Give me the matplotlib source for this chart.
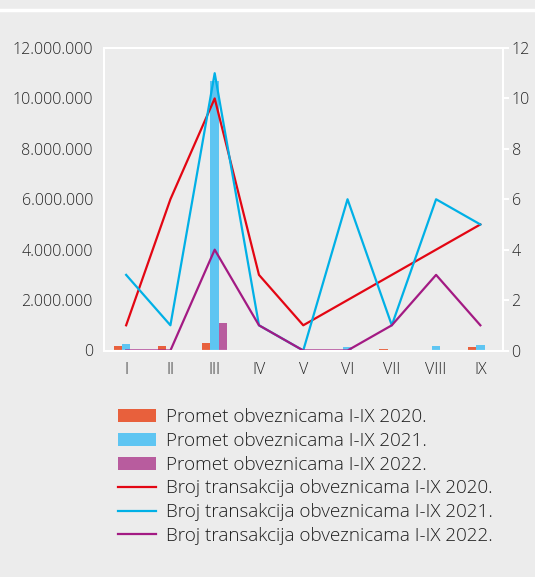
import matplotlib
matplotlib.use('Agg')
import matplotlib.pyplot as plt
from matplotlib.ticker import FuncFormatter
import numpy as np

# months I-IX
months = ['I', 'II', 'III', 'IV', 'V', 'VI', 'VII', 'VIII', 'IX']

# turnover (left axis)
promet_2020 = [180000, 170000, 300000, 20000, 30000, 10000, 70000, 20000, 140000]
promet_2021 = [250000, 30000, 10700000, 30000, 0, 150000, 10000, 180000, 200000]
promet_2022 = [0, 0, 1080000, 0, 0, 0, 20000, 0, 0]

# number of transactions (right axis)
broj_2020 = [1, 6, 10, 3, 1, 2, 3, 4, 5]
broj_2021 = [3, 1, 11, 1, 0, 6, 1, 6, 5]
broj_2022 = [0, 0, 4, 1, 0, 0, 1, 3, 1]

bg = '#ececec'
txt = '#262626'
plt.rcParams['font.family'] = ['Open Sans', 'DejaVu Sans']
plt.rcParams['font.weight'] = 'light'

fig = plt.figure(figsize=(5.35, 5.77), dpi=100, facecolor=bg)
# white strip at the top
fig.add_artist(plt.Line2D([0, 1], [1 - 9.5/577, 1 - 9.5/577], color='white', lw=2.5,
                          transform=fig.transFigure))

W, H = 535.0, 577.0
ax = fig.add_axes([104/W, 1 - 350.5/H, (502.5-104)/W, (350.5-48)/H])
ax.set_facecolor(bg)
ax2 = ax.twinx()

x = np.arange(len(months))
bw = 0.19
ax.bar(x - bw, promet_2020, bw, color='#e8603c', label='Promet obveznicama I-IX 2020.')
ax.bar(x, promet_2021, bw, color='#5ec5f2', label='Promet obveznicama I-IX 2021.')
ax.bar(x + bw, promet_2022, bw, color='#b85c9e', label='Promet obveznicama I-IX 2022.')

ax2.plot(x, broj_2020, color='#e30613', lw=1.6, label='Broj transakcija obveznicama I-IX 2020.')
ax2.plot(x, broj_2021, color='#00b0e6', lw=1.6, label='Broj transakcija obveznicama I-IX 2021.')
ax2.plot(x, broj_2022, color='#a31a83', lw=1.6, label='Broj transakcija obveznicama I-IX 2022.')

ax.set_xlim(-0.5, 8.5)
ax.set_ylim(0, 12000000)
ax2.set_ylim(0, 12)
ax.set_yticks(np.arange(0, 12000001, 2000000))
ax2.set_yticks(np.arange(0, 13, 2))
ax.yaxis.set_major_formatter(FuncFormatter(lambda v, p: '{:,.0f}'.format(v).replace(',', '.')))
ax.set_xticks(x)
ax.set_xticklabels(months)

for a in (ax, ax2):
    for s in a.spines.values():
        s.set_color('white')
        s.set_linewidth(1.5)
ax.tick_params(axis='y', length=0, pad=8, labelsize=11.5, labelcolor=txt)
ax.tick_params(axis='x', length=0, pad=8, labelsize=11.5, labelcolor=txt)
ax2.tick_params(axis='y', length=4.5, width=1.5, color='white', pad=2, labelsize=11.5, labelcolor=txt)

h1, lab1 = ax.get_legend_handles_labels()
h2, lab2 = ax2.get_legend_handles_labels()
leg = fig.legend(h1 + h2, lab1 + lab2, loc='upper left', bbox_to_anchor=(109/W, 1 - 399/H),
                 frameon=False, fontsize=13.6, handlelength=2.0, handleheight=0.68,
                 handletextpad=0.5, labelspacing=0.3, borderpad=0)
for t in leg.get_texts():
    t.set_color('#1e1e1e')

fig.savefig('out.png', dpi=100, facecolor=bg)
